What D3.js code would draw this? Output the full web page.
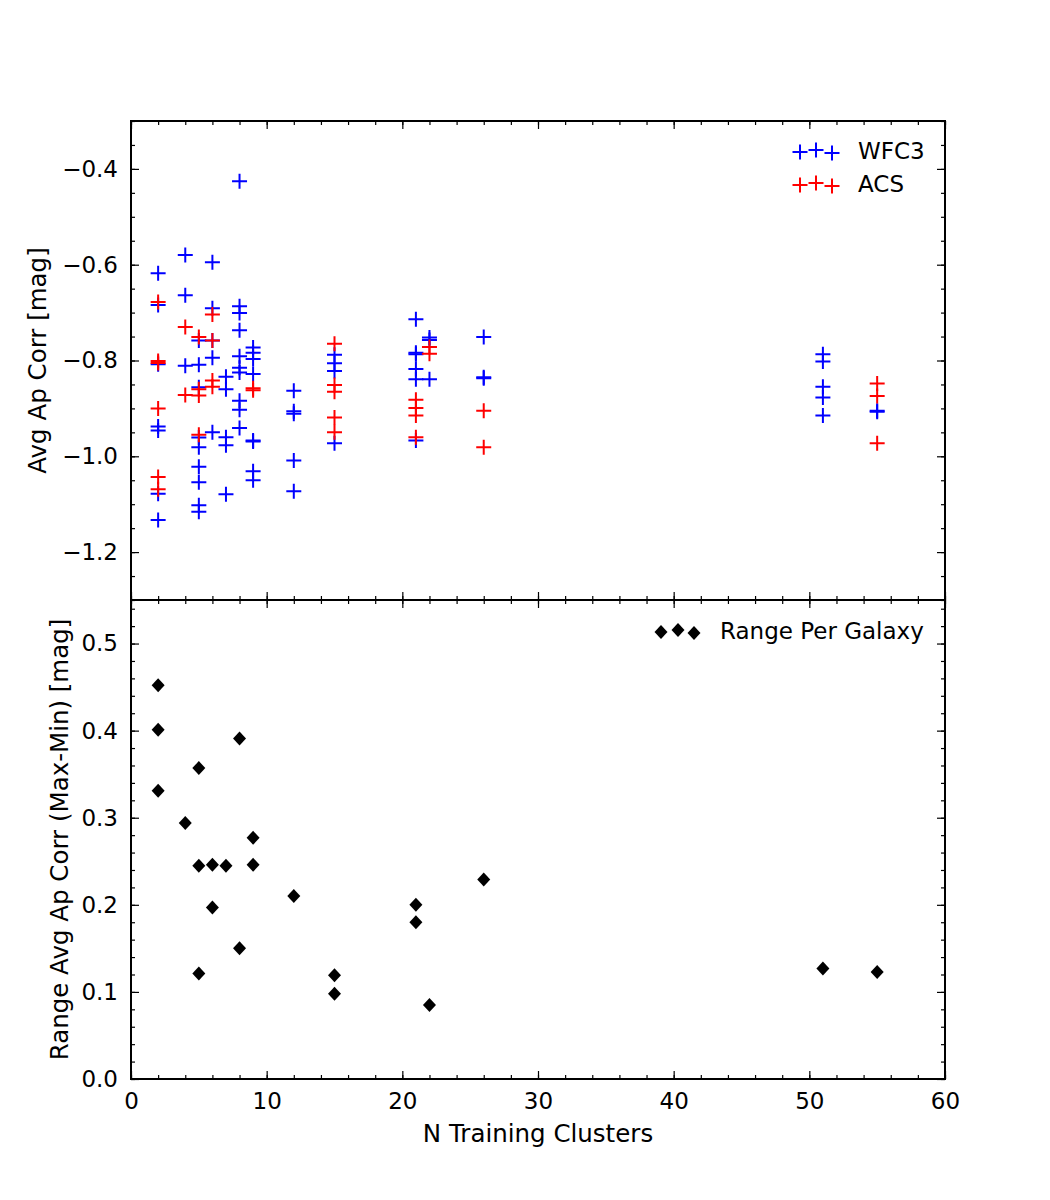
<html>
<head>
    <meta charset="utf-8">
    <title>Avg Ap Corr</title>
</head>
<style>
    body { margin: 0; background: #fff; }
    text { font-family: "DejaVu Sans", sans-serif; fill: #000; }
    .tick text { font-size: 23px; }
    .axis path, .axis line { stroke: #000; }
    .label { font-size: 24.5px; text-anchor: middle; }
    .legend { font-size: 23px; }
</style>
<body>
<script src="https://cdn.jsdelivr.net/npm/d3@7"></script>
<script>
    var width = 1050;
    var height = 1200;

    // top panel: avg aperture correction per training set, [N clusters, mag]
    var wfc3Points = [
        [2, -0.618], [2, -0.684], [2, -0.808], [2, -0.938], [2, -0.946], [2, -1.078], [2, -1.133],
        [4, -0.580], [4, -0.664], [4, -0.811],
        [5, -0.758], [5, -0.809], [5, -0.856], [5, -0.961], [5, -0.981], [5, -1.022], [5, -1.054], [5, -1.102], [5, -1.116],
        [6, -0.595], [6, -0.691], [6, -0.758], [6, -0.794], [6, -0.950],
        [7, -0.834], [7, -0.860], [7, -0.960], [7, -0.977], [7, -1.079],
        [8, -0.426], [8, -0.687], [8, -0.701], [8, -0.737], [8, -0.791], [8, -0.815], [8, -0.825], [8, -0.884], [8, -0.903], [8, -0.941],
        [9, -0.773], [9, -0.784], [9, -0.797], [9, -0.828], [9, -0.967], [9, -0.969], [9, -1.031], [9, -1.050],
        [12, -0.863], [12, -0.906], [12, -0.911], [12, -1.009], [12, -1.073],
        [15, -0.788], [15, -0.806], [15, -0.822], [15, -0.973],
        [21, -0.714], [21, -0.784], [21, -0.787], [21, -0.818], [21, -0.839], [21, -0.967],
        [22, -0.752], [22, -0.757], [22, -0.839],
        [26, -0.751], [26, -0.835], [26, -0.837],
        [51, -0.787], [51, -0.802], [51, -0.855], [51, -0.877], [51, -0.915],
        [55, -0.905], [55, -0.907]
    ];

    var acsPoints = [
        [2, -0.678], [2, -0.801], [2, -0.805], [2, -0.900], [2, -1.043], [2, -1.069],
        [4, -0.730], [4, -0.872],
        [5, -0.751], [5, -0.860], [5, -0.873], [5, -0.955],
        [6, -0.704], [6, -0.758], [6, -0.842], [6, -0.855],
        [9, -0.858], [9, -0.862],
        [15, -0.765], [15, -0.851], [15, -0.865], [15, -0.919], [15, -0.950],
        [21, -0.882], [21, -0.899], [21, -0.915], [21, -0.960],
        [22, -0.772], [22, -0.786],
        [26, -0.905], [26, -0.981],
        [55, -0.848], [55, -0.874], [55, -0.973]
    ];

    // bottom panel: range (max-min) per galaxy
    var rangePoints = [
        [2, 0.452], [2, 0.401], [2, 0.331],
        [4, 0.294],
        [5, 0.357], [5, 0.245], [5, 0.121],
        [6, 0.246], [6, 0.197],
        [7, 0.245],
        [8, 0.391], [8, 0.150],
        [9, 0.277], [9, 0.246],
        [12, 0.210],
        [15, 0.119], [15, 0.098],
        [21, 0.200], [21, 0.180],
        [22, 0.085],
        [26, 0.229],
        [51, 0.127],
        [55, 0.123]
    ];

    var xTicks = [0, 10, 20, 30, 40, 50, 60];
    var topTicks = [-1.2, -1.0, -0.8, -0.6, -0.4];
    var bottomTicks = [0.0, 0.1, 0.2, 0.3, 0.4, 0.5];

    var left = 131, right = 945, plotTop = 121, mid = 600, plotBottom = 1079;

    var svg = d3.select("body").append("svg")
            .attr("width", width)
            .attr("height", height);

    var x = d3.scaleLinear().domain([0, 60]).range([left, right]);
    var yTop = d3.scaleLinear().domain([-1.3, -0.3]).range([mid, plotTop]);
    var yBot = d3.scaleLinear().domain([0, 0.55]).range([plotBottom, mid]);

    var fmt = d3.format(".1f");

    // inward ticks on all four sides of a panel
    function panel(y, yMajor, yMinorStep, y0, y1, showX) {
        var g = svg.append("g");
        var xMinor = d3.range(0, 60.01, 2);
        var yMinor = d3.range(Math.ceil(y.domain()[0] / yMinorStep - 1e-6), Math.floor(y.domain()[1] / yMinorStep + 1e-6) + 1)
                .map(function (k) { return k * yMinorStep; });

        // bottom
        g.append("g").attr("class", "axis").attr("transform", "translate(0," + y0 + ")")
                .call(d3.axisBottom(x).tickValues(xMinor).tickSize(-4).tickFormat(""));
        g.append("g").attr("class", "axis").attr("transform", "translate(0," + y0 + ")")
                .call(d3.axisBottom(x).tickValues(xTicks).tickSize(-8).tickPadding(14)
                        .tickFormat(showX ? d3.format("d") : ""));
        // top
        g.append("g").attr("class", "axis").attr("transform", "translate(0," + y1 + ")")
                .call(d3.axisTop(x).tickValues(xMinor).tickSize(-4).tickFormat(""));
        g.append("g").attr("class", "axis").attr("transform", "translate(0," + y1 + ")")
                .call(d3.axisTop(x).tickValues(xTicks).tickSize(-8).tickFormat(""));
        // left
        g.append("g").attr("class", "axis").attr("transform", "translate(" + left + ",0)")
                .call(d3.axisLeft(y).tickValues(yMinor).tickSize(-4).tickFormat(""));
        g.append("g").attr("class", "axis").attr("transform", "translate(" + left + ",0)")
                .call(d3.axisLeft(y).tickValues(yMajor).tickSize(-8).tickPadding(13).tickFormat(fmt));
        // right
        g.append("g").attr("class", "axis").attr("transform", "translate(" + right + ",0)")
                .call(d3.axisRight(y).tickValues(yMinor).tickSize(-4).tickFormat(""));
        g.append("g").attr("class", "axis").attr("transform", "translate(" + right + ",0)")
                .call(d3.axisRight(y).tickValues(yMajor).tickSize(-8).tickFormat(""));

        g.selectAll(".axis .domain").remove();
        g.selectAll(".axis line").attr("stroke-width", 1.2);

        g.append("rect")
                .attr("x", left).attr("y", y1)
                .attr("width", right - left).attr("height", y0 - y1)
                .attr("fill", "none").attr("stroke", "#000").attr("stroke-width", 2);
        return g;
    }

    panel(yTop, topTicks, 0.05, mid, plotTop, false);
    panel(yBot, bottomTicks, 0.02, plotBottom, mid, true);

    var plus = "M-7.5,0H7.5M0,-7.5V7.5";
    var diamond = "M0,-7L6.5,0L0,7L-6.5,0Z";

    svg.append("g").selectAll("path")
            .data(wfc3Points)
            .enter()
            .append("path")
            .attr("d", plus)
            .attr("stroke", "blue")
            .attr("stroke-width", 2)
            .attr("transform", function (d) { return "translate(" + x(d[0]) + "," + yTop(d[1]) + ")"; });

    svg.append("g").selectAll("path")
            .data(acsPoints)
            .enter()
            .append("path")
            .attr("d", plus)
            .attr("stroke", "red")
            .attr("stroke-width", 2)
            .attr("transform", function (d) { return "translate(" + x(d[0]) + "," + yTop(d[1]) + ")"; });

    svg.append("g").selectAll("path")
            .data(rangePoints)
            .enter()
            .append("path")
            .attr("d", diamond)
            .attr("fill", "#000")
            .attr("transform", function (d) { return "translate(" + x(d[0]) + "," + yBot(d[1]) + ")"; });

    // legends (matplotlib style: 3 scatter points with small y jitter)
    var legOffsets = [[0, 1], [16, -1], [32, 2]];
    var legTop = [{name: "WFC3", color: "blue", y: 151}, {name: "ACS", color: "red", y: 184}];
    legTop.forEach(function (item) {
        legOffsets.forEach(function (o) {
            svg.append("path").attr("d", plus).attr("stroke", item.color).attr("stroke-width", 2)
                    .attr("transform", "translate(" + (800 + o[0]) + "," + (item.y + o[1]) + ")");
        });
        svg.append("text").attr("class", "legend").attr("x", 858).attr("y", item.y + 8).text(item.name);
    });
    legOffsets.forEach(function (o) {
        svg.append("path").attr("d", diamond).attr("fill", "#000")
                .attr("transform", "translate(" + (661 + o[0] + (o[0] ? 1 : 0)) + "," + (631 + o[1]) + ")");
    });
    svg.append("text").attr("class", "legend").attr("x", 720).attr("y", 639).text("Range Per Galaxy");

    // axis labels
    svg.append("text").attr("class", "label")
            .attr("x", x(30)).attr("y", 1142).text("N Training Clusters");
    svg.append("text").attr("class", "label")
            .attr("transform", "translate(46," + ((plotTop + mid) / 2) + ") rotate(-90)")
            .text("Avg Ap Corr [mag]");
    svg.append("text").attr("class", "label")
            .attr("transform", "translate(68," + ((mid + plotBottom) / 2) + ") rotate(-90)")
            .text("Range Avg Ap Corr (Max-Min) [mag]");
</script>
</body>
</html>
